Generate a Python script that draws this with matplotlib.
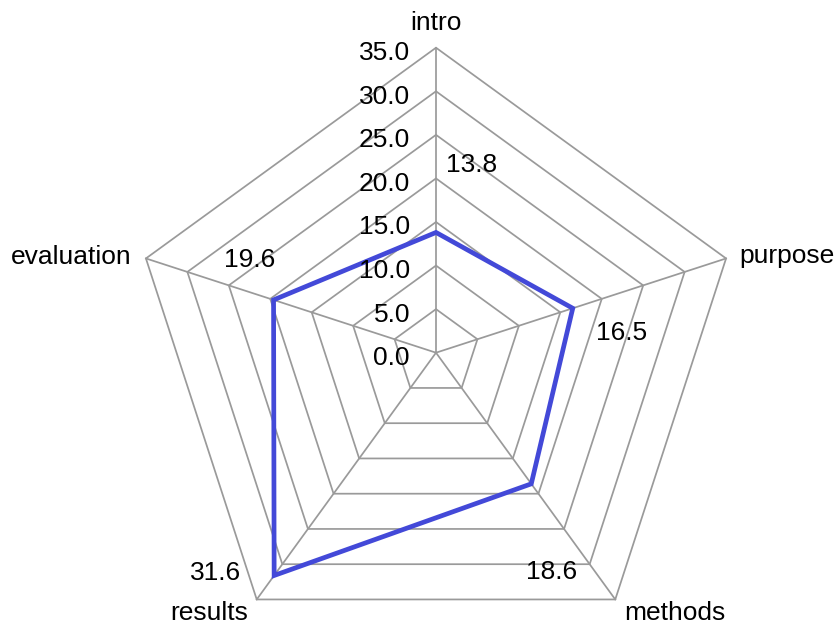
import numpy as np
import matplotlib
matplotlib.use('Agg')
import matplotlib.pyplot as plt
from matplotlib.patches import Polygon

categories = ['intro', 'purpose', 'methods', 'results', 'evaluation']
values = [13.8, 16.5, 18.6, 31.6, 19.6]
ticks = [0, 5, 10, 15, 20, 25, 30, 35]
tick_labels = ['0.0', '5.0', '10.0', '15.0', '20.0', '25.0', '30.0', '35.0']

plt.rcParams['font.family'] = ['Liberation Sans', 'DejaVu Sans']

W, H = 837, 626
fig = plt.figure(figsize=(W / 100, H / 100), dpi=100)
ax = fig.add_axes([0, 0, 1, 1])
rmax = ticks[-1]
scale = 305 / rmax
cx, cy = 436, H - 352.7
ax.set_xlim(-cx / scale, (W - cx) / scale)
ax.set_ylim(-cy / scale, (H - cy) / scale)
ax.axis('off')

n = len(categories)
angles = np.deg2rad(90 - 360 / n * np.arange(n))
ca, sa = np.cos(angles), np.sin(angles)

grid_c = '#9a9a9a'
for t in ticks[1:]:
    ax.add_patch(Polygon(np.column_stack([t * ca, t * sa]), closed=True,
                         fill=False, edgecolor=grid_c, lw=1.25, zorder=1))
for i in range(n):
    ax.plot([0, rmax * ca[i]], [0, rmax * sa[i]], color=grid_c, lw=1.25, zorder=1)

v = np.array(values)
ax.add_patch(Polygon(np.column_stack([v * ca, v * sa]), closed=True, fill=False,
                     edgecolor='#4349d8', lw=3.4, joinstyle='miter', zorder=3))

fs = 19
# radial tick labels along the intro axis
for t, lab in zip(ticks, tick_labels):
    ax.annotate(lab, (0, t), xytext=(-26, -12.5), textcoords='offset pixels',
                ha='right', va='baseline', fontsize=fs, zorder=4)

# category labels
cat_off = [(0, 17.7, 'center'), (13, -5, 'left'), (9, -20.5, 'left'),
           (-9, -20.5, 'right'), (-14, -6, 'right')]
for i, name in enumerate(categories):
    dx, dy, ha = cat_off[i]
    ax.annotate(name, (rmax * ca[i], rmax * sa[i]), xytext=(dx, dy),
                textcoords='offset pixels', ha=ha, va='baseline', fontsize=fs)

# value labels
val_off = [(36, 60.4), (48.7, -31.7), (20.2, -95), (-59, -4.5), (-24, 33.2)]
for i, val in enumerate(values):
    dx, dy = val_off[i]
    ax.annotate(f'{val:.1f}', (val * ca[i], val * sa[i]), xytext=(dx, dy),
                textcoords='offset pixels', ha='center', va='baseline',
                fontsize=fs, zorder=4)

fig.savefig('out.png', dpi=100)
